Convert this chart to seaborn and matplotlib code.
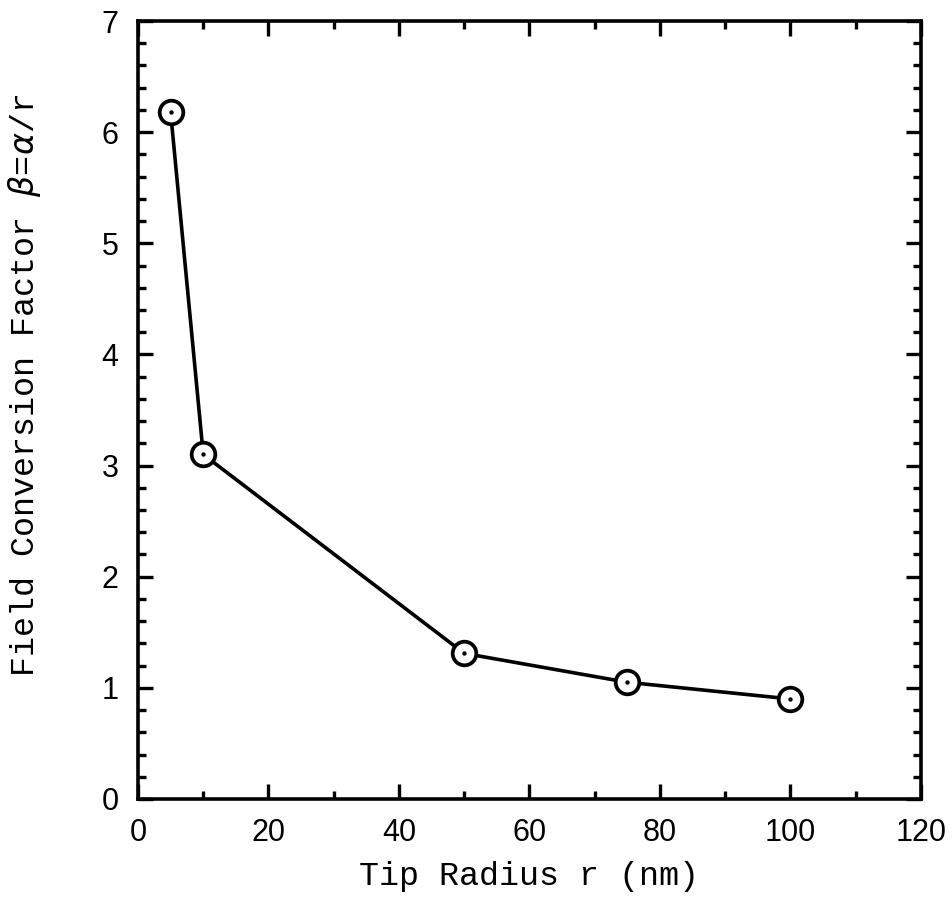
import numpy as np
import pandas as pd
import matplotlib
matplotlib.use("Agg")
import matplotlib.pyplot as plt
from matplotlib.ticker import MultipleLocator
import seaborn as sns

# Data
tip_radius_nm = [5, 10, 50, 75, 100]
beta_values = [6.18, 3.10, 1.31, 1.05, 0.90]

x_label = "Tip Radius r (nm)"
y_label = r"Field Conversion Factor $\beta$=$\alpha$/r"

sns.set_theme(style="white")
plt.rcParams["mathtext.fontset"] = "dejavusans"
plt.rcParams["text.color"] = "black"
plt.rcParams["axes.labelcolor"] = "black"
plt.rcParams["xtick.color"] = "black"
plt.rcParams["ytick.color"] = "black"

df = pd.DataFrame({"r": tip_radius_nm, "beta": beta_values})

fig = plt.figure(figsize=(9.53, 9.15), dpi=100)
ax = fig.add_axes([0.1448, 0.1268, 0.8216, 0.8502])

sns.lineplot(data=df, x="r", y="beta", ax=ax, color="black", linewidth=2.6,
             marker="o", markersize=17, markerfacecolor="white",
             markeredgecolor="black", markeredgewidth=2.7)
sns.scatterplot(data=df, x="r", y="beta", ax=ax, color="black", s=10,
                edgecolor="black", linewidth=0, zorder=5)

ax.set_xlim(0, 120)
ax.set_ylim(0, 7)
ax.xaxis.set_major_locator(MultipleLocator(20))
ax.xaxis.set_minor_locator(MultipleLocator(10))
ax.yaxis.set_major_locator(MultipleLocator(1))
ax.yaxis.set_minor_locator(MultipleLocator(0.2))

ax.tick_params(which="both", direction="in", top=True, right=True,
               bottom=True, left=True, color="black", labelcolor="black")
ax.tick_params(which="major", length=11, width=2.4, pad=14, labelsize=22)
ax.tick_params(which="minor", length=6, width=2.4)
for lab in ax.get_xticklabels() + ax.get_yticklabels():
    lab.set_family("Liberation Sans")

for sp in ax.spines.values():
    sp.set_visible(True)
    sp.set_color("black")
    sp.set_linewidth(2.6)

ax.set_xlabel(x_label, family="Liberation Mono", fontsize=24, labelpad=9,
              color="black")
ax.set_ylabel(y_label, family="Liberation Mono", fontsize=24, color="black")
ax.yaxis.set_label_coords(-0.121, 0.531)
ax.grid(False)

fig.savefig("out.png", dpi=100, facecolor="white")
